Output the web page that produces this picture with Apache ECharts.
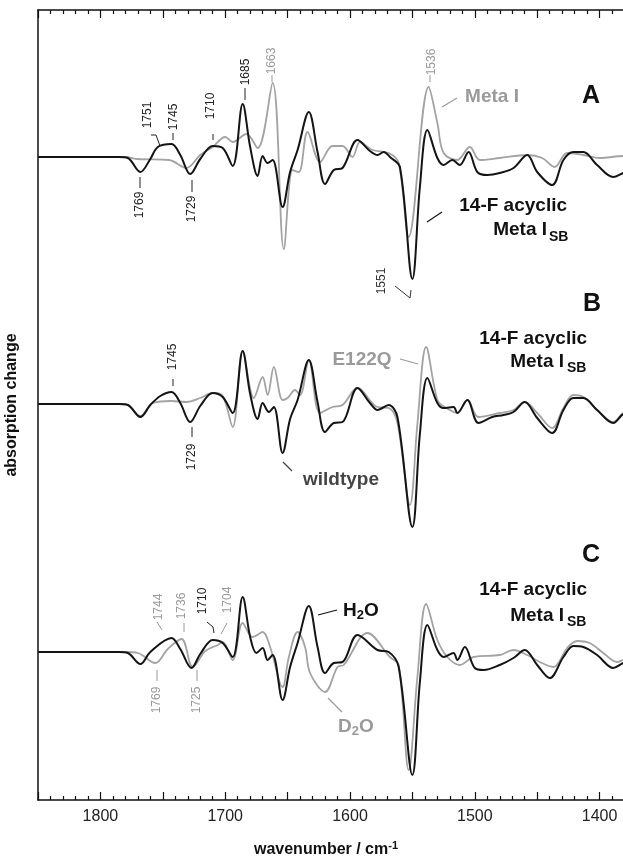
<!DOCTYPE html>
<html>
<head>
<meta charset="utf-8">
<script src="https://cdn.jsdelivr.net/npm/echarts@6/dist/echarts.min.js"></script>
<style>
html,body{margin:0;padding:0;background:#fff;overflow:hidden;width:623px;height:859px;}
#chart{width:662px;height:859px;}
</style>
</head>
<body>
<div id="chart"></div>
<script>
// ---------- data (wavenumber cm-1, absorption change in arbitrary units) ----------
const xTickLabels = [1800, 1700, 1600, 1500, 1400];
const panelOffsets = { A: 64.3, B: 39.6, C: 14.8 };

// Panel A
const A_metaISB = [[1850,0],[1800,0],[1785,0],[1778,-0.1],[1768,-1.5],[1760,-0.2],[1754,1.0],[1743,1.3],[1736,0.2],[1728,-1.7],[1720,-0.2],[1710,1.1],[1702,0.9],[1694,-0.9],[1686,5.3],[1680,1.0],[1674,-1.9],[1670,0.1],[1666,-0.6],[1662,-0.3],[1654,-5.0],[1648,-1.5],[1642,0.7],[1633,4.5],[1626,0.5],[1620,-2.7],[1613,-1.3],[1606,-1.1],[1594,1.7],[1584,0.6],[1578,0.2],[1573,0.5],[1568,0],[1560,-1.0],[1550,-12.2],[1544,-3.0],[1538,2.7],[1530,-0.1],[1525,-0.8],[1518,-0.3],[1512,-0.8],[1505,0.5],[1498,-1.5],[1490,-1.8],[1480,-1.6],[1469,-1.1],[1458,0.2],[1450,-1.5],[1438,-2.8],[1429,-0.3],[1421,0.5],[1413,0.5],[1402,-0.8],[1389,-2.0],[1381,-1.6],[1370,-1.2],[1350,-1.0]];
const A_metaI = [[1850,0],[1800,0],[1780,0],[1770,-0.2],[1745,-0.3],[1731,-1.1],[1720,0.2],[1710,1.0],[1700,2.0],[1694,1.5],[1683,2.3],[1674,0.9],[1662,7.4],[1653,-9.2],[1646,-1.3],[1641,-1.5],[1634,2.5],[1624,-0.5],[1614,1.1],[1606,1.1],[1598,0],[1592,1.5],[1582,0.7],[1569,0.4],[1561,-0.6],[1553,-8.0],[1537,7.0],[1530,3.4],[1525,0.4],[1514,-0.3],[1504,1.0],[1496,-0.3],[1480,-0.1],[1458,0.2],[1446,-0.1],[1436,-1.0],[1426,0.4],[1413,0.2],[1400,-0.1],[1381,0.1],[1350,0]];

// Panel B
const B_wildtype = [[1850,0],[1800,0],[1785,0],[1778,-0.1],[1768,-1.3],[1760,-0.1],[1752,0.8],[1743,1.2],[1736,0.1],[1728,-1.8],[1720,-0.2],[1710,1.1],[1702,0.7],[1694,-0.9],[1686,5.3],[1680,1.0],[1674,-1.5],[1670,0.1],[1665,-0.8],[1661,-0.3],[1654,-4.9],[1648,-1.5],[1642,0.4],[1633,4.4],[1626,0.2],[1620,-2.8],[1613,-1.9],[1606,-1.8],[1594,1.6],[1584,0.1],[1578,-0.6],[1569,-0.1],[1562,-1.3],[1550,-12.3],[1544,-3.0],[1538,2.6],[1530,0.1],[1525,-0.4],[1517,-0.3],[1514,-0.9],[1506,0.4],[1497,-1.9],[1486,-1.3],[1477,-1.1],[1469,-0.8],[1460,0.2],[1450,-1.4],[1438,-2.9],[1429,-0.6],[1421,0.6],[1413,0.6],[1402,-0.6],[1389,-1.9],[1381,-1.0],[1370,-0.6],[1350,-0.5]];
const B_E122Q = [[1850,0],[1800,0],[1785,0],[1778,-0.1],[1768,-1.2],[1758,0.1],[1743,0.3],[1731,0.2],[1720,0.6],[1710,1.1],[1702,0.8],[1694,-2.3],[1686,5.3],[1677,0.6],[1670,2.7],[1666,0.9],[1661,3.7],[1654,0.4],[1650,0.6],[1644,1.4],[1640,0.9],[1633,4.4],[1624,-0.9],[1614,-0.3],[1606,-0.1],[1594,1.6],[1578,-0.3],[1569,-0.4],[1562,-1.9],[1552,-10.1],[1546,-2.0],[1539,5.7],[1530,0.4],[1524,-0.3],[1514,-0.9],[1506,0.4],[1497,-1.3],[1480,-0.9],[1469,-0.6],[1460,0.2],[1450,-0.9],[1438,-2.4],[1429,-0.4],[1421,0.9],[1413,0.7],[1402,-0.6],[1389,-1.8],[1381,-0.9],[1370,-0.5],[1350,-0.4]];

// Panel C
const C_H2O = [[1850,0],[1800,0],[1785,0],[1778,-0.1],[1768,-1.2],[1760,0],[1743,1.4],[1736,0.3],[1727,-1.6],[1720,-0.2],[1710,1.2],[1702,0.9],[1694,-0.5],[1686,5.5],[1680,1.5],[1675,-0.1],[1670,0.4],[1666,-0.8],[1662,-0.3],[1654,-4.8],[1648,-1.5],[1642,0.9],[1633,4.6],[1626,0.5],[1620,-2.1],[1613,-1.1],[1606,-1.0],[1594,1.7],[1578,0.2],[1569,0],[1561,-1.5],[1550,-12.3],[1544,-3.0],[1538,2.7],[1530,0.2],[1525,-0.5],[1517,-0.1],[1514,-0.8],[1508,0.5],[1500,-1.6],[1493,-1.8],[1480,-1.3],[1469,-0.6],[1460,0.2],[1450,-1.3],[1440,-2.6],[1429,-0.5],[1421,0.6],[1413,0.5],[1402,-0.3],[1389,-1.6],[1381,-1.1],[1370,-0.7],[1350,-0.5]];
const C_D2O = [[1850,0],[1800,0],[1780,0],[1770,-0.1],[1756,-1.1],[1746,0.3],[1735,1.3],[1726,-1.5],[1716,0.1],[1706,0.7],[1702,1.0],[1694,-0.8],[1686,2.9],[1678,1.5],[1670,2.0],[1664,0.5],[1654,-3.5],[1649,-0.5],[1642,2.0],[1636,0.5],[1632,-2.1],[1620,-4.0],[1610,-1.5],[1605,-1.3],[1586,1.9],[1568,-0.5],[1561,-1.3],[1553,-11.8],[1546,-2.5],[1539,4.8],[1530,1.2],[1522,-0.5],[1512,-1.3],[1501,-0.5],[1480,-0.3],[1469,0.2],[1458,-0.3],[1448,-1.0],[1437,-1.5],[1426,0.4],[1418,1.1],[1408,0.9],[1397,-0.1],[1386,-1.0],[1381,-0.8],[1370,-0.4],[1350,-0.3]];

// ---------- chart ----------
const BLACK = '#141414', GRAY = '#a3a3a3', GTXT = '#9a9a9a';
const FONT = '"Liberation Sans", Arial, sans-serif';
function shift(arr, off){ return arr.map(p => [p[0], +(p[1] + off).toFixed(3)]); }
function line(name, arr, off, color, w, z){
  return { name, type:'line', data: shift(arr, off), smooth:0.35, symbol:'none',
           lineStyle:{color, width:w}, z, animation:false, clip:true };
}

const chart = echarts.init(document.getElementById('chart'), null, {renderer:'canvas'});
const xCommon = {
  type:'value', min:1350, max:1850, interval:50, inverse:true,
  splitLine:{show:false},
  axisLine:{show:true, lineStyle:{color:'#111', width:1.5}},
  axisTick:{show:true, inside:true, length:8, lineStyle:{color:'#111', width:1.2}},
  minorTick:{show:true, splitNumber:5, length:4, lineStyle:{color:'#111', width:1.2}},
};
const option = {
  backgroundColor:'#fff',
  animation:false,
  grid:{left:38, right:0, top:10, bottom:59, containLabel:false, outerBoundsMode:'none'},
  xAxis:[
    Object.assign({}, xCommon, {
      position:'bottom',
      axisLabel:{show:true, margin:9, fontFamily:FONT, fontSize:16, color:'#222',
        formatter: v => xTickLabels.indexOf(v) >= 0 ? String(v) : ''}
    }),
    Object.assign({}, xCommon, {position:'top', axisLabel:{show:false}})
  ],
  yAxis:{type:'value', min:0, max:79, axisLine:{show:true, lineStyle:{color:'#111', width:1.5}},
    axisTick:{show:false}, axisLabel:{show:false}, splitLine:{show:false}},
  series:[
    line('Meta I', A_metaI, panelOffsets.A, GRAY, 1.8, 2),
    line('14-F acyclic Meta I SB (A)', A_metaISB, panelOffsets.A, BLACK, 2, 3),
    line('E122Q', B_E122Q, panelOffsets.B, GRAY, 1.8, 2),
    line('wildtype', B_wildtype, panelOffsets.B, BLACK, 2, 3),
    line('D2O', C_D2O, panelOffsets.C, GRAY, 1.8, 2),
    line('H2O', C_H2O, panelOffsets.C, BLACK, 2, 3)
  ]
};
chart.setOption(option);

// ---------- annotations ----------
const g = [];
function txt(x, y, text, opt){
  opt = opt || {};
  g.push({type:'text', x, y, rotation: opt.rot ? Math.PI/2 : 0, z:10,
    style:{text, fill: opt.color || '#111', font: (opt.weight||'bold') + ' ' + (opt.size||19) + 'px ' + FONT,
      align: opt.align || 'center', verticalAlign: 'middle'}});
}
function seg(pts, color, w){
  g.push({type:'polyline', z:10, shape:{points:pts}, style:{stroke:color||'#222', lineWidth:w||1, fill:null}});
}
function num(x, y, text, color){ txt(x, y, text, {rot:true, size:12, weight:'normal', color: color||'#222'}); }

// panel letters
txt(591, 96, 'A', {size:25}); txt(592, 304, 'B', {size:25}); txt(591, 555, 'C', {size:25});
// panel labels
txt(567, 206, '14-F acyclic', {align:'right'});
txt(587, 339, '14-F acyclic', {align:'right'});
txt(587, 590, '14-F acyclic', {align:'right'});
txt(547, 230, 'Meta I', {align:'right'}); txt(549, 237, 'SB', {align:'left', size:14});
txt(564, 362, 'Meta I', {align:'right'}); txt(567, 368, 'SB', {align:'left', size:14});
txt(564, 616, 'Meta I', {align:'right'}); txt(567, 622, 'SB', {align:'left', size:14});

// series names
txt(492, 97, 'Meta I', {color:GTXT}); seg([[442,107],[457,98]], GTXT, 1.2);
seg([[427,222],[442,212]], '#111', 1.2);
txt(362, 360, 'E122Q', {color:GTXT}); seg([[400,359],[418,364]], GTXT, 1.2);
txt(303, 480, 'wildtype', {color:'#444', align:'left'}); seg([[283,462],[292,471]], '#444', 1.2);
g.push({type:'text', x:343, y:611, z:10, style:{text:'{a|H}{b|2}{a|O}', align:'left', verticalAlign:'middle',
  rich:{a:{font:'bold 19px '+FONT, fill:'#111'}, b:{font:'bold 13px '+FONT, fill:'#111', padding:[8,0,0,0]}}}});
seg([[318,615],[337,610]], '#111', 1.2);
g.push({type:'text', x:338, y:727, z:10, style:{text:'{a|D}{b|2}{a|O}', align:'left', verticalAlign:'middle',
  rich:{a:{font:'bold 19px '+FONT, fill:GTXT}, b:{font:'bold 13px '+FONT, fill:GTXT, padding:[8,0,0,0]}}}});
seg([[328,698],[342,712]], GTXT, 1.2);

// peak numbers panel A
num(272, 61, '1663', GTXT); seg([[272,75],[272,82]], GTXT, 1);
num(432, 62, '1536', GTXT); seg([[430,75],[430,82]], GTXT, 1);
num(246, 72, '1685'); seg([[245,88],[245,100]]);
num(211, 106, '1710'); seg([[213,134],[213,140]]);
num(174, 117, '1745'); seg([[173,133],[173,140]]);
num(148, 115, '1751'); seg([[151,135],[156,135],[160,146]]);
num(140, 205, '1769'); seg([[140,177],[140,188]]);
num(192, 209, '1729'); seg([[192,180],[192,192]]);
num(382, 281, '1551', '#333'); seg([[395,286],[410,298],[411,290]], '#333', 1);
// panel B
num(173, 357, '1745'); seg([[173,379],[173,386]]);
num(192, 457, '1729'); seg([[192,427],[192,437]]);
// panel C
num(159, 607, '1744', GTXT); seg([[157,622],[162,630]], GTXT, 1);
num(182, 606, '1736', GTXT); seg([[184,623],[184,632]], GTXT, 1);
num(203, 601, '1710'); seg([[207,622],[213,627],[214,633]]);
num(228, 600, '1704', GTXT); seg([[227,623],[221,634]], GTXT, 1);
num(157, 700, '1769', GTXT); seg([[157,670],[157,681]], GTXT, 1);
num(197, 700, '1725', GTXT); seg([[197,670],[197,681]], GTXT, 1);

// axis titles
g.push({type:'text', x:326, y:850, z:10, style:{text:'{a|wavenumber / cm}{b|-1}', align:'center', verticalAlign:'middle',
  rich:{a:{font:'bold 16px '+FONT, fill:'#111'}, b:{font:'bold 11px '+FONT, fill:'#111', padding:[0,0,9,0]}}}});
g.push({type:'text', x:12, y:405, rotation:Math.PI/2, z:10, style:{text:'absorption change', align:'center', verticalAlign:'middle',
  font:'bold 16px '+FONT, fill:'#111'}});

chart.setOption({graphic:{elements:g}});
</script>
</body>
</html>
